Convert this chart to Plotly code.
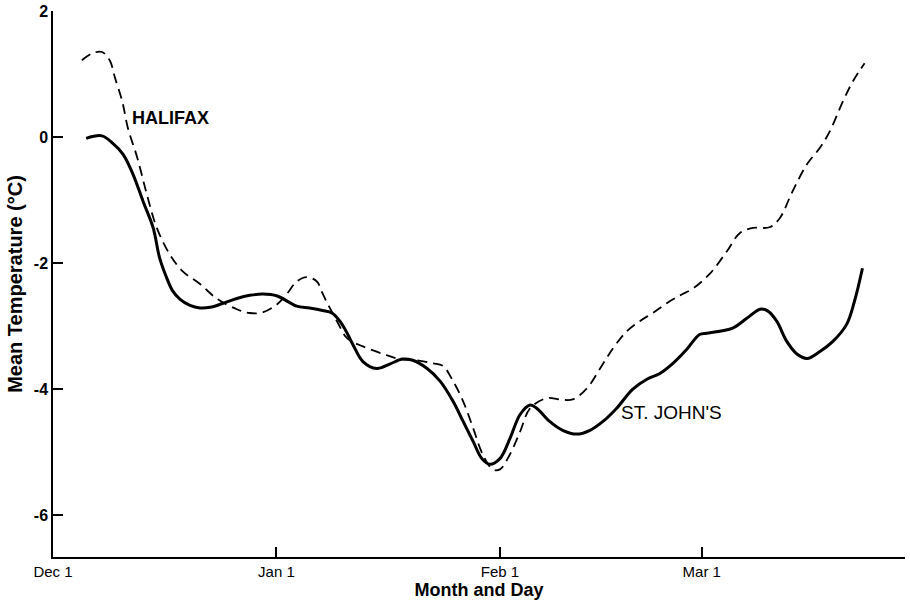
import plotly.graph_objects as go

# Days since Dec 1
stjohns_day = [4.6, 6.8, 8.3, 9.7, 11.1, 12.5, 13.9, 14.8, 15.8, 16.6, 17.6, 19.0, 20.4, 21.8, 23.5,
               25.5, 27.3, 29.1, 31.1, 33.8, 35.6, 37.4, 38.7, 39.8, 40.9, 41.6, 43.0, 44.9, 46.7,
               48.5, 49.9, 51.9, 53.7, 55.5, 56.9, 58.3, 59.5, 60.6, 62.0, 63.4, 64.8, 66.2, 67.1,
               68.9, 70.7, 72.7, 74.5, 76.3, 78.2, 80.4, 82.4, 84.2, 86.0, 87.9, 89.7, 90.7, 92.5,
               94.3, 96.3, 98.1, 99.2, 100.4, 101.8, 103.2, 104.6, 106.4, 108.2, 110.1, 111.2, 112.3]
stjohns_temp = [-0.02, 0.02, -0.10, -0.27, -0.59, -1.02, -1.44, -1.92, -2.24, -2.44, -2.57, -2.67,
                -2.71, -2.70, -2.64, -2.56, -2.51, -2.49, -2.52, -2.68, -2.71, -2.75, -2.79, -2.92,
                -3.13, -3.29, -3.56, -3.67, -3.60, -3.52, -3.54, -3.67, -3.87, -4.19, -4.51, -4.83,
                -5.10, -5.19, -5.10, -4.78, -4.40, -4.25, -4.30, -4.51, -4.65, -4.71, -4.65, -4.51,
                -4.30, -4.00, -3.84, -3.75, -3.59, -3.37, -3.13, -3.11, -3.08, -3.03, -2.87, -2.73,
                -2.76, -2.92, -3.24, -3.44, -3.51, -3.40, -3.24, -2.97, -2.60, -2.08]

halifax_day = [4.0, 5.5, 6.8, 7.9, 8.6, 9.6, 10.4, 11.7, 13.0, 14.4, 16.2, 18.0, 20.4, 22.7, 25.5,
               27.3, 29.1, 31.1, 32.5, 33.8, 35.2, 36.6, 37.4, 38.4, 39.4, 40.8, 43.0, 45.8, 48.1,
               50.5, 52.7, 54.1, 55.5, 56.9, 58.3, 59.6, 61.0, 62.0, 63.4, 64.8, 66.2, 68.5, 70.3,
               72.1, 74.1, 75.9, 77.7, 79.6, 81.4, 83.2, 85.2, 87.0, 88.8, 91.1, 93.5, 95.3, 97.1,
               99.4, 100.8, 102.6, 104.6, 106.4, 107.8, 109.6, 111.0, 112.6]
halifax_temp = [1.22, 1.33, 1.35, 1.21, 0.94, 0.57, 0.14, -0.33, -0.90, -1.44, -1.86, -2.13, -2.33,
                -2.56, -2.73, -2.79, -2.78, -2.65, -2.48, -2.29, -2.22, -2.29, -2.48, -2.71, -2.92,
                -3.19, -3.32, -3.44, -3.52, -3.54, -3.59, -3.63, -3.87, -4.19, -4.62, -5.03, -5.27,
                -5.27, -5.03, -4.67, -4.30, -4.14, -4.16, -4.16, -3.98, -3.67, -3.35, -3.08, -2.92,
                -2.79, -2.63, -2.51, -2.40, -2.17, -1.81, -1.52, -1.44, -1.43, -1.29, -0.86, -0.43,
                -0.17, 0.10, 0.57, 0.89, 1.17]

x_tickvals = [0, 31, 62, 90]
x_ticktext = ["Dec 1", "Jan 1", "Feb 1", "Mar 1"]
y_tickvals = [2, 0, -2, -4, -6]
y_ticktext = ["2", "0", "-2", "-4", "-6"]

FONT = "Liberation Sans, Arial, sans-serif"

fig = go.Figure()
fig.add_trace(go.Scatter(x=halifax_day, y=halifax_temp, mode="lines", name="HALIFAX",
                         line=dict(color="black", width=1.8, dash="10px,6px", shape="spline", smoothing=1.0)))
fig.add_trace(go.Scatter(x=stjohns_day, y=stjohns_temp, mode="lines", name="ST. JOHN'S",
                         line=dict(color="black", width=3, shape="spline", smoothing=1.0)))

fig.add_annotation(x=10.7, y=0.3, text="<b>HALIFAX</b>", showarrow=False, xanchor="left",
                   font=dict(family=FONT, size=18, color="black"))
fig.add_annotation(x=78.5, y=-4.37, text="ST. JOHN'S", showarrow=False, xanchor="left",
                   font=dict(family=FONT, size=19, color="black"))

fig.update_layout(
    width=910, height=606,
    margin=dict(l=53, r=5, t=11, b=49),
    paper_bgcolor="white", plot_bgcolor="white",
    showlegend=False,
    font=dict(family=FONT, color="black"),
)
fig.update_xaxes(range=[0, 118.2], tickvals=x_tickvals, ticktext=x_ticktext, automargin=False,
                 ticks="inside", ticklen=10, tickwidth=1.5, tickcolor="black",
                 showline=True, linecolor="black", linewidth=1.5, showgrid=False, zeroline=False,
                 tickfont=dict(family=FONT, size=15),
                 title=dict(text="<b>Month and Day</b>", font=dict(family=FONT, size=18), standoff=2))
fig.update_yaxes(range=[-6.66, 2], tickvals=y_tickvals, ticktext=y_ticktext, automargin=False,
                 ticks="inside", ticklen=10, tickwidth=1.5, tickcolor="black",
                 showline=True, linecolor="black", linewidth=1.5, showgrid=False, zeroline=False,
                 tickfont=dict(family=FONT, size=16, weight="bold"),
                 title=dict(text="<b>Mean Temperature (°C)</b>", font=dict(family=FONT, size=20), standoff=6))

# remove the page's default 8px body margin so the figure fills the window exactly
fig.write_html("out.html", config={"displayModeBar": False},
               post_script="document.body.style.margin='0px';")
